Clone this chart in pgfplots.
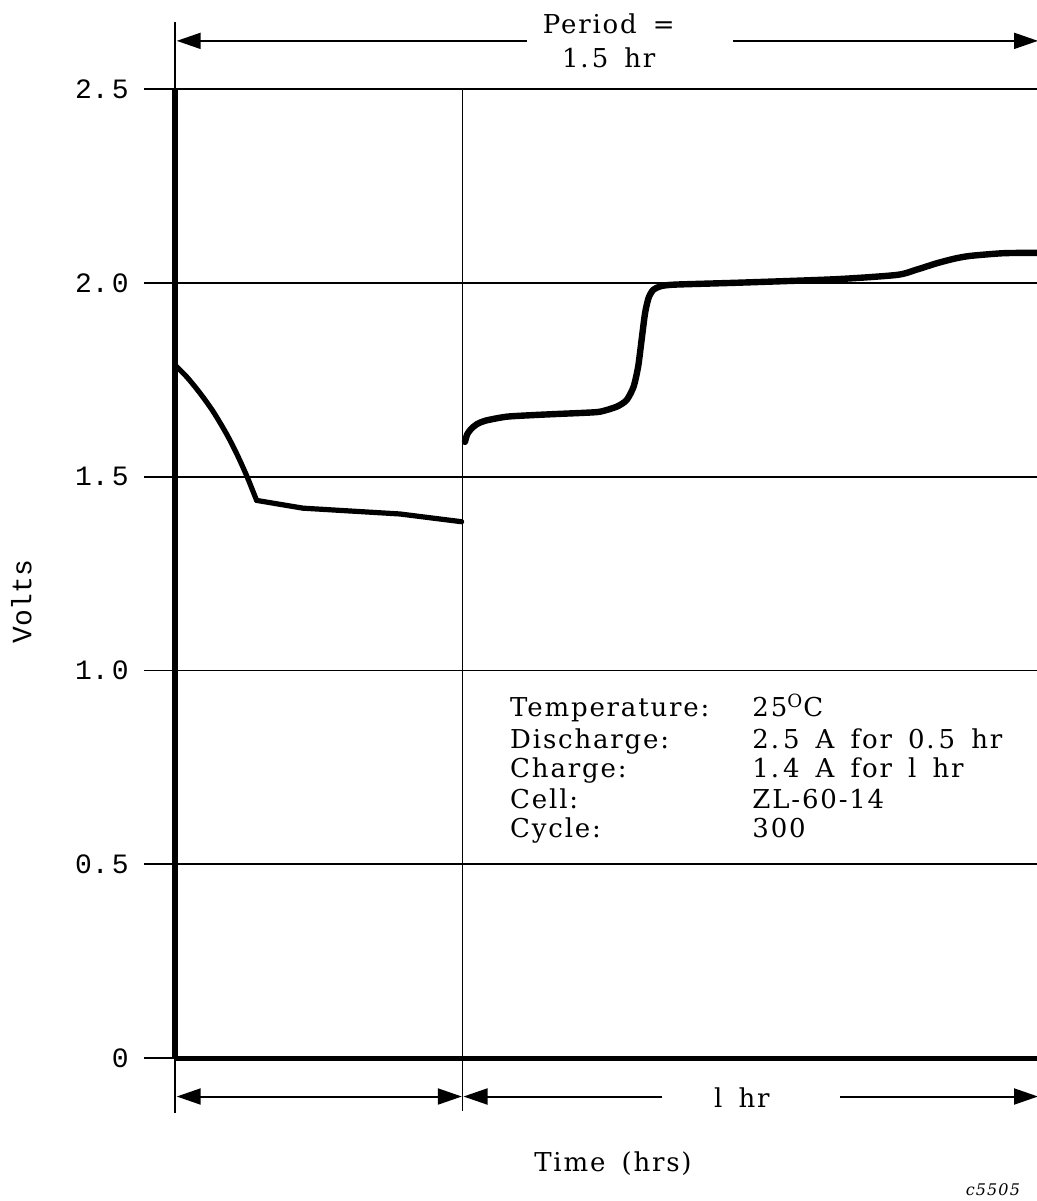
\documentclass[border=0pt]{standalone}
\usepackage{fontspec}
\setmainfont[LetterSpace=7,WordSpace=1.6]{DejaVu Serif}
\newfontfamily\monofont{Liberation Mono}
\usepackage{pgfplots}
\pgfplotsset{compat=1.18}
\usetikzlibrary{arrows.meta}
\begin{document}
\begin{tikzpicture}
\begin{axis}[
  scale only axis, width=431.5pt, height=484.35pt,
  xmin=0, xmax=1.5, ymin=0, ymax=2.5,
  clip=false,
  axis lines=left,
  axis line style={draw=none,-},
  xtick=\empty,
  ytick={0,0.5,1,1.5,2,2.5},
  yticklabels={0,0.\kern1.5pt5,1.\kern1.5pt0,1.\kern1.5pt5,2.\kern1.5pt0,2.\kern1.5pt5},
  major tick length=0pt,
  yticklabel style={font=\monofont\fontsize{14pt}{14pt}\selectfont, anchor=east, inner sep=0pt, xshift=-23pt},
  xlabel={Time (hrs)},
  xlabel style={at={(rel axis cs:0.5075,-0.1094)}, anchor=center, font=\fontsize{13pt}{13pt}\selectfont},
  ylabel={Volts},
  ylabel style={at={(rel axis cs:-0.178,0.471)}, anchor=center, font=\monofont\fontsize{14pt}{14pt}\selectfont},
]
% grid lines
\draw[line width=0.8pt] (axis cs:-0.054,0.5) -- (axis cs:1.5,0.5);
\draw[line width=0.8pt] (axis cs:-0.054,1.0) -- (axis cs:1.5,1.0);
\draw[line width=0.8pt] (axis cs:-0.054,1.5) -- (axis cs:1.5,1.5);
\draw[line width=0.8pt] (axis cs:-0.054,2.0) -- (axis cs:1.5,2.0);
\draw[line width=1.1pt] (axis cs:-0.054,2.5) -- (axis cs:1.5,2.5);
\draw[line width=0.8pt] (axis cs:-0.054,0) -- (axis cs:0,0);
\draw[line width=2.5pt] (axis cs:0,0) -- (axis cs:1.5,0);
% vertical lines
\draw[line width=2.6pt] (axis cs:0,0) -- (axis cs:0,2.5);
\draw[line width=0.8pt] (axis cs:0,2.5) -- (axis cs:0,2.674);
\draw[line width=0.8pt] (axis cs:0,0) -- (axis cs:0,-0.142);
\draw[line width=0.8pt] (axis cs:0.5,2.5) -- (axis cs:0.5,-0.136);
% top dimension
\draw[line width=1pt, {Triangle[length=12pt,width=8pt]}-] (axis cs:0.003,2.625) -- (axis cs:0.6117,2.625);
\draw[line width=1pt, -{Triangle[length=12pt,width=8pt]}] (axis cs:0.970,2.625) -- (axis cs:1.5,2.625);
\node[align=center, font=\fontsize{13pt}{17pt}\selectfont] at (axis cs:0.754,2.625) {Period =\\1.\kern1.5pt5 hr};
% bottom dimension
\draw[line width=1pt, {Triangle[length=12pt,width=8pt]}-{Triangle[length=12pt,width=8pt]}] (axis cs:0.003,-0.0994) -- (axis cs:0.4985,-0.0994);
\draw[line width=1pt, {Triangle[length=12pt,width=8pt]}-] (axis cs:0.5015,-0.0994) -- (axis cs:0.846,-0.0994);
\draw[line width=1pt, -{Triangle[length=12pt,width=8pt]}] (axis cs:1.1557,-0.0994) -- (axis cs:1.5,-0.0994);
\node[font=\fontsize{13pt}{13pt}\selectfont] at (axis cs:0.9854,-0.103) {l hr};
% discharge
\addplot[black, line width=2.6pt, line join=round, line cap=round, smooth, tension=0.5] coordinates {
 (0,1.788) (0.0203,1.758) (0.0434,1.716) (0.0665,1.668) (0.0898,1.610)
 (0.1071,1.560) (0.1245,1.503) (0.1419,1.439)};
\addplot[black, line width=2.6pt, line join=round, line cap=round] coordinates {
 (0.1419,1.439) (0.2224,1.419) (0.3910,1.404) (0.4982,1.384)};
% charge
\addplot[black, line width=3.2pt, line join=round, line cap=round, smooth, tension=0.4] coordinates {
 (0.504,1.590) (0.508,1.610) (0.515,1.624) (0.525,1.636) (0.540,1.645) (0.576,1.655)
 (0.620,1.659) (0.663,1.662) (0.710,1.665) (0.739,1.668) (0.768,1.681) (0.785,1.698)
 (0.797,1.732) (0.805,1.784) (0.811,1.853) (0.817,1.922) (0.823,1.961) (0.831,1.982)
 (0.845,1.992) (0.870,1.996) (0.982,2.001) (1.150,2.010) (1.255,2.021) (1.290,2.035)
 (1.324,2.051) (1.355,2.063) (1.382,2.070) (1.440,2.077) (1.500,2.078)};
% info text
\begin{scope}[every node/.style={anchor=base west, inner sep=0pt, font=\fontsize{13pt}{13pt}\selectfont}]
\node at (axis cs:0.582,0.881) {Temperature:};
\node at (axis cs:0.582,0.800) {Discharge:};
\node at (axis cs:0.582,0.725) {Charge:};
\node at (axis cs:0.582,0.645) {Cell:};
\node at (axis cs:0.582,0.568) {Cycle:};
\node at (axis cs:1.003,0.881) {25\textsuperscript{O}C};
\node at (axis cs:1.003,0.800) {2.\kern2pt5 A for 0.\kern2pt5 hr};
\node at (axis cs:1.003,0.725) {1.\kern2pt4 A for l hr};
\node at (axis cs:1.003,0.645) {ZL-60-14};
\node at (axis cs:1.003,0.568) {300};
\end{scope}
\node[font=\itshape\fontsize{8pt}{8pt}\selectfont] at (axis cs:1.4216,-0.341) {c5505};
\end{axis}
\pgfresetboundingbox
\path[use as bounding box] (-87.5pt,-71.5pt) rectangle (431pt,529pt);
\end{tikzpicture}
\end{document}
